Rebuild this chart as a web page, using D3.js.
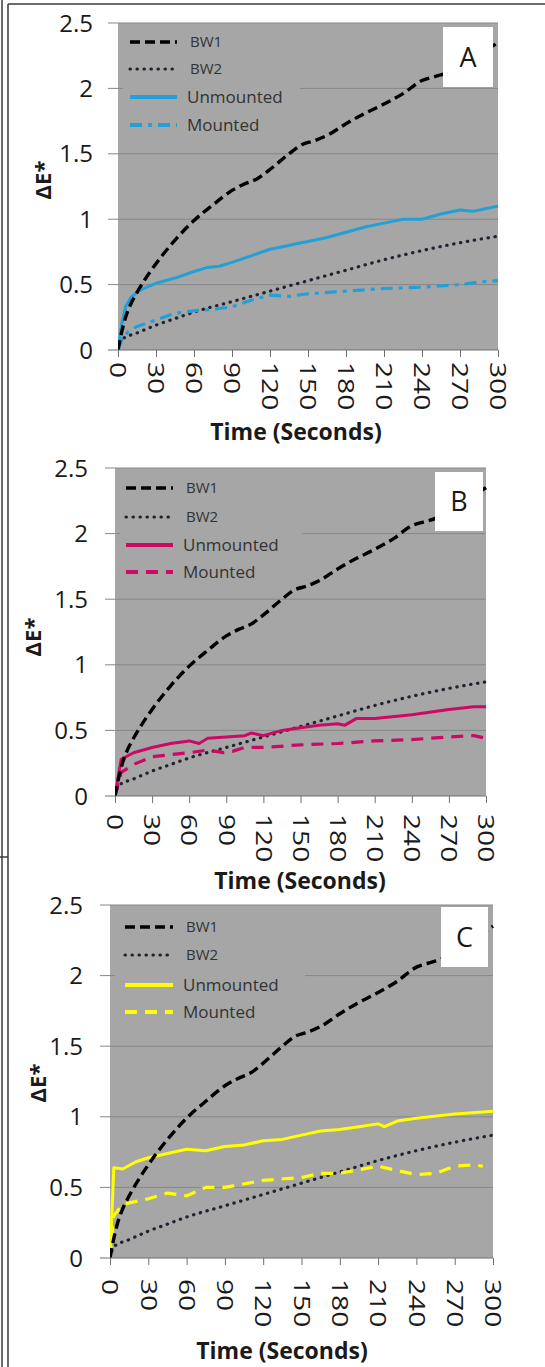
<!DOCTYPE html>
<html>
<head>
<meta charset="utf-8">
<script src="https://cdn.jsdelivr.net/npm/d3@7"></script>
<style>
  body { margin: 0; background: #fff; }
  svg { display: block; }
</style>
</head>
<body>
<svg id="chart" width="545" height="1367"></svg>
<script>
// ---------------------------------------------------------------- DATA
var timeTicks = [0, 30, 60, 90, 120, 150, 180, 210, 240, 270, 300];
var yTicks = [0, 0.5, 1, 1.5, 2, 2.5];
var seriesNames = ['BW1', 'BW2', 'Unmounted', 'Mounted'];
var panelLetters = ['A', 'B', 'C'];

// [seconds, deltaE]
var bw1 = [[0,0],[3,0.14],[6,0.25],[10,0.35],[15,0.44],[20,0.52],[30,0.66],[45,0.84],
  [60,0.99],[75,1.11],[90,1.22],[100,1.27],[110,1.31],[120,1.38],[135,1.5],[145,1.57],
  [155,1.6],[165,1.64],[180,1.73],[195,1.81],[210,1.88],[225,1.96],[240,2.06],[250,2.09],
  [260,2.12],[270,2.18],[285,2.26],[300,2.35]];
var bw2 = [[0,0],[3,0.08],[15,0.13],[30,0.19],[45,0.24],[60,0.29],[90,0.37],[120,0.45],
  [150,0.53],[180,0.61],[210,0.69],[240,0.76],[270,0.82],[300,0.87]];

var unmountedA = [[0,0],[3,0.2],[6,0.33],[10,0.4],[15,0.44],[20,0.47],[30,0.51],[45,0.55],
  [60,0.6],[70,0.63],[80,0.64],[90,0.67],[105,0.72],[120,0.77],[130,0.79],[140,0.81],
  [150,0.83],[165,0.86],[180,0.9],[195,0.94],[210,0.97],[225,1.0],[240,1.0],[255,1.04],
  [270,1.07],[280,1.06],[290,1.08],[300,1.1]];
var mountedA = [[0,0],[3,0.08],[8,0.14],[15,0.18],[30,0.23],[45,0.28],[60,0.3],[75,0.31],
  [90,0.33],[105,0.38],[120,0.42],[135,0.41],[150,0.43],[165,0.44],[180,0.45],[210,0.47],
  [240,0.48],[270,0.5],[285,0.52],[300,0.53]];

var unmountedB = [[0,0],[5,0.28],[15,0.33],[30,0.37],[45,0.4],[60,0.42],[68,0.4],[75,0.44],
  [90,0.45],[105,0.46],[110,0.48],[120,0.46],[135,0.5],[150,0.52],[165,0.54],[180,0.55],
  [186,0.54],[195,0.59],[210,0.59],[240,0.62],[270,0.66],[290,0.68],[300,0.68]];
var mountedB = [[0,0],[5,0.18],[15,0.24],[30,0.3],[60,0.33],[75,0.35],[88,0.33],[95,0.34],
  [105,0.37],[120,0.37],[150,0.39],[180,0.4],[210,0.42],[240,0.43],[270,0.45],[290,0.46],
  [300,0.44]];

var unmountedC = [[0,0],[3,0.64],[10,0.63],[20,0.68],[30,0.71],[45,0.74],[60,0.77],[75,0.76],
  [90,0.79],[105,0.8],[120,0.83],[135,0.84],[150,0.87],[165,0.9],[180,0.91],[195,0.93],
  [210,0.95],[215,0.93],[225,0.97],[240,0.99],[270,1.02],[300,1.04]];
var mountedC = [[0,0],[3,0.3],[10,0.38],[30,0.42],[45,0.46],[60,0.44],[75,0.5],[90,0.5],
  [120,0.55],[150,0.57],[165,0.6],[180,0.6],[210,0.65],[225,0.62],[240,0.59],[255,0.6],
  [270,0.65],[285,0.66],[292,0.65]];

// ---------------------------------------------------------------- LAYOUT
var svg = d3.select('#chart');
var FONT = '"Open Sans", "Liberation Sans", sans-serif',
  PLOT_BG = '#a6a6a6',
  GRID = '#878787',
  TEXT = '#1a1a1a';

var panels = [
  { left: 118, right: 498, top: 23, bottom: 350, color: '#23a0d8', mountedDash: '12,6,4,6',
    unmounted: unmountedA, mounted: mountedA,
    box: [443, 27, 50, 60], legendY: [42, 69, 97, 125], legendX: [130, 177], legendRight: 300,
    labelRight: 93, labelGap: 12, yTitle: [43, 180], xTitle: [296, 440] },
  { left: 115, right: 486, top: 468, bottom: 796, color: '#cc0a63', mountedDash: '12,8',
    unmounted: unmountedB, mounted: mountedB,
    box: [435, 472, 48, 59], legendY: [488, 517, 545, 572], legendX: [126, 173], legendRight: 302,
    labelRight: 88, labelGap: 18, yTitle: [33, 637], xTitle: [300, 889] },
  { left: 110, right: 493, top: 905, bottom: 1258, color: '#ffff00', mountedDash: '12,8',
    unmounted: unmountedC, mounted: mountedC,
    box: [441, 907, 47, 60], legendY: [927, 955, 985, 1012], legendX: [125, 173], legendRight: 305,
    labelRight: 83, labelGap: 21, yTitle: [38, 1083], xTitle: [282, 1359] }
];

// frame lines round the figure
var frame = svg.append('g').attr('stroke', '#3a3a3a').attr('stroke-width', 1.5);
frame.append('line').attr('x1', 2).attr('x2', 2).attr('y1', 0).attr('y2', 1367);
frame.append('line').attr('x1', 8).attr('x2', 8).attr('y1', 4).attr('y2', 1367);
frame.append('line').attr('x1', 8).attr('x2', 545).attr('y1', 4).attr('y2', 4);
frame.append('line').attr('x1', 0).attr('x2', 8).attr('y1', 857).attr('y2', 857);

panels.forEach(function(p, i) {
  var g = svg.append('g');
  var x = d3.scaleLinear().domain([0, 300]).range([p.left, p.right]);
  var y = d3.scaleLinear().domain([0, 2.5]).range([p.bottom, p.top]);

  // plot area
  g.append('rect')
    .attr('x', p.left).attr('y', p.top)
    .attr('width', p.right - p.left).attr('height', p.bottom - p.top)
    .attr('fill', PLOT_BG);

  // gridlines (they run out past the axis as tick marks)
  g.selectAll('.grid')
    .data(yTicks.filter(function(d) { return d > 0; }))
    .enter()
    .append('line')
      .attr('x1', p.left - 10).attr('x2', p.right)
      .attr('y1', function(d) { return y(d); })
      .attr('y2', function(d) { return y(d); })
      .attr('stroke', GRID).attr('stroke-width', 1);

  // legend background hides the gridlines
  g.append('rect')
    .attr('x', p.left + 5).attr('y', p.top + 2)
    .attr('width', p.legendRight - p.left - 5)
    .attr('height', p.legendY[3] + 14 - p.top - 2)
    .attr('fill', PLOT_BG);

  // series
  var clipId = 'clip' + i;
  g.append('clipPath').attr('id', clipId)
    .append('rect')
    .attr('x', p.left).attr('y', p.top - 2)
    .attr('width', p.right - p.left + 2).attr('height', p.bottom - p.top + 2);

  var smooth = d3.line()
    .x(function(d) { return x(d[0]); })
    .y(function(d) { return y(d[1]); })
    .curve(d3.curveMonotoneX);
  var jagged = d3.line()
    .x(function(d) { return x(d[0]); })
    .y(function(d) { return y(d[1]); });

  var styles = [
    { data: bw2, line: smooth, stroke: '#1f2430', width: 3.2, dash: '0.4,6.6', cap: 'round' },
    { data: p.mounted, line: jagged, stroke: p.color, width: 3.2, dash: p.mountedDash, cap: 'butt' },
    { data: p.unmounted, line: jagged, stroke: p.color, width: 3, dash: null, cap: 'butt' },
    { data: bw1, line: smooth, stroke: '#000', width: 3.4, dash: '10,5', cap: 'butt' }
  ];

  var lines = g.append('g').attr('clip-path', 'url(#' + clipId + ')');
  styles.forEach(function(s) {
    lines.append('path')
      .attr('d', s.line(s.data))
      .attr('fill', 'none')
      .attr('stroke', s.stroke)
      .attr('stroke-width', s.width)
      .attr('stroke-dasharray', s.dash)
      .attr('stroke-linecap', s.cap)
      .attr('stroke-linejoin', 'round');
  });

  // legend
  var legendStyles = [styles[3], styles[0], styles[2], styles[1]];
  seriesNames.forEach(function(name, k) {
    var s = legendStyles[k];
    g.append('line')
      .attr('x1', p.legendX[0]).attr('x2', p.legendX[1])
      .attr('y1', p.legendY[k]).attr('y2', p.legendY[k])
      .attr('stroke', s.stroke)
      .attr('stroke-width', k < 2 ? s.width : 4)
      .attr('stroke-dasharray', s.dash)
      .attr('stroke-linecap', s.cap);
    g.append('text')
      .attr('x', p.legendX[1] + (k < 2 ? 13 : 10))
      .attr('y', p.legendY[k])
      .attr('dy', '0.36em')
      .style('font-family', FONT)
      .style('font-size', k < 2 ? '15px' : '17px')
      .attr('fill', '#333')
      .text(name);
  });

  // panel letter
  g.append('rect')
    .attr('x', p.box[0]).attr('y', p.box[1])
    .attr('width', p.box[2]).attr('height', p.box[3])
    .attr('fill', '#fff');
  g.append('text')
    .attr('x', p.box[0] + p.box[2] / 2)
    .attr('y', p.box[1] + p.box[3] / 2)
    .attr('dy', '0.36em')
    .style('text-anchor', 'middle')
    .style('font-family', FONT)
    .style('font-size', '27px')
    .attr('fill', TEXT)
    .text(panelLetters[i]);

  // x axis
  var xAxis = g.append('g')
    .attr('transform', 'translate(0,' + p.bottom + ')')
    .call(d3.axisBottom(x).tickValues(timeTicks).tickSize(7).tickFormat(''));
  xAxis.select('.domain').attr('stroke', '#6f6f6f').attr('d', 'M' + (p.left - 10) + ',0H' + p.right);
  xAxis.selectAll('.tick line').attr('stroke', '#6f6f6f');

  g.selectAll('.xlab')
    .data(timeTicks)
    .enter()
    .append('text')
      .attr('transform', function(d) {
        return 'translate(' + x(d) + ',' + (p.bottom + p.labelGap) + ') rotate(90) scale(1.28,1)';
      })
      .attr('dy', '0.35em')
      .style('font-family', FONT)
      .style('font-size', '22px')
      .attr('fill', TEXT)
      .text(function(d) { return d; });

  // y axis labels
  g.selectAll('.ylab')
    .data(yTicks)
    .enter()
    .append('text')
      .attr('x', p.labelRight)
      .attr('y', function(d) { return y(d); })
      .attr('dy', '0.36em')
      .style('text-anchor', 'end')
      .style('font-family', FONT)
      .style('font-size', '24px')
      .attr('fill', TEXT)
      .text(function(d) { return d; });

  // titles
  g.append('text')
    .attr('transform', 'translate(' + p.yTitle[0] + ',' + p.yTitle[1] + ') rotate(-90)')
    .attr('dy', '0.36em')
    .style('text-anchor', 'middle')
    .style('font-family', FONT)
    .style('font-size', '22px')
    .style('font-weight', 700)
    .attr('fill', TEXT)
    .text('ΔE*');

  g.append('text')
    .attr('x', p.xTitle[0]).attr('y', p.xTitle[1])
    .style('text-anchor', 'middle')
    .style('font-family', FONT)
    .style('font-size', '23px')
    .style('font-weight', 700)
    .attr('fill', TEXT)
    .text('Time (Seconds)');
});
</script>
</body>
</html>
